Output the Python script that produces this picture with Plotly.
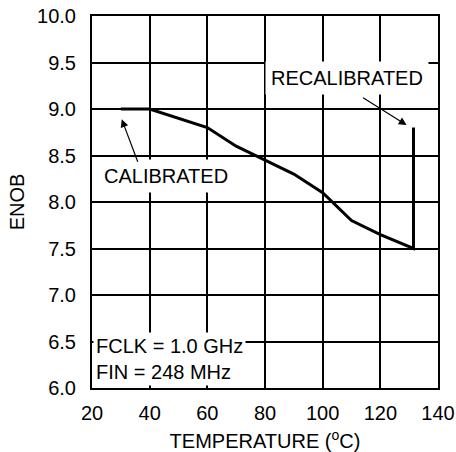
import plotly.graph_objects as go

temp = [30, 40, 60, 70, 80, 90, 100, 110, 120, 131.5, 131.5]
enob = [9.0, 9.0, 8.8, 8.6, 8.45, 8.3, 8.1, 7.8, 7.65, 7.5, 8.8]

x_ticks = [20, 40, 60, 80, 100, 120, 140]
y_ticks = [6.0, 6.5, 7.0, 7.5, 8.0, 8.5, 9.0, 9.5, 10.0]
y_labels = ["6.0", "6.5", "7.0", "7.5", "8.0", "8.5", "9.0", "9.5", "10.0"]

FONT = "Liberation Sans, Arial, sans-serif"

fig = go.Figure()
fig.add_trace(go.Scatter(x=temp, y=enob, mode="lines",
                         line=dict(color="black", width=3), showlegend=False,
                         hoverinfo="skip"))

fig.update_layout(
    width=456, height=452,
    margin=dict(l=92, r=18, t=16, b=64),
    paper_bgcolor="white", plot_bgcolor="white",
    font=dict(family=FONT, size=20, color="black"),
    xaxis=dict(range=[20, 140], tickvals=x_ticks, showgrid=True, automargin=False,
               gridcolor="black", gridwidth=1.5, zeroline=False,
               showline=True, linecolor="black", linewidth=2, mirror=True,
               ticks="", ticklabelstandoff=6,
               title=dict(text="TEMPERATURE (<sup>o</sup>C)", font=dict(size=20), standoff=12)),
    yaxis=dict(range=[6.0, 10.0], tickvals=y_ticks, ticktext=y_labels, showgrid=True,
               automargin=False,
               gridcolor="black", gridwidth=1.5, zeroline=False,
               showline=True, linecolor="black", linewidth=2, mirror=True,
               ticks="", ticklabelstandoff=10,
               title=dict(text="ENOB", font=dict(size=20), standoff=7)),
)

# text labels with white boxes
fig.add_annotation(x=45.7, y=8.28, text="CALIBRATED", showarrow=False,
                   bgcolor="white", borderpad=5, font=dict(size=20))
fig.add_annotation(x=108.6, y=9.333, text="RECALIBRATED", showarrow=False,
                   bgcolor="white", borderpad=5, font=dict(size=20))
fig.add_annotation(x=20.4, y=6.31, xanchor="left", align="left",
                   text="FCLK = 1.0 GHz<br>FIN = 248 MHz", showarrow=False,
                   bgcolor="white", borderpad=2, font=dict(size=20))

# arrows
fig.add_annotation(x=30.3, y=8.89, ax=36.06, ay=8.416, axref="x", ayref="y",
                   text="", showarrow=True, arrowhead=2, arrowsize=1.3,
                   arrowwidth=1.2, arrowcolor="black")
fig.add_annotation(x=129.1, y=8.828, ax=113.5, ay=9.132, axref="x", ayref="y",
                   text="", showarrow=True, arrowhead=2, arrowsize=1.3,
                   arrowwidth=1.2, arrowcolor="black")

fig.write_html("out.html", config={"displayModeBar": False},
               post_script="document.body.style.margin='0';")
